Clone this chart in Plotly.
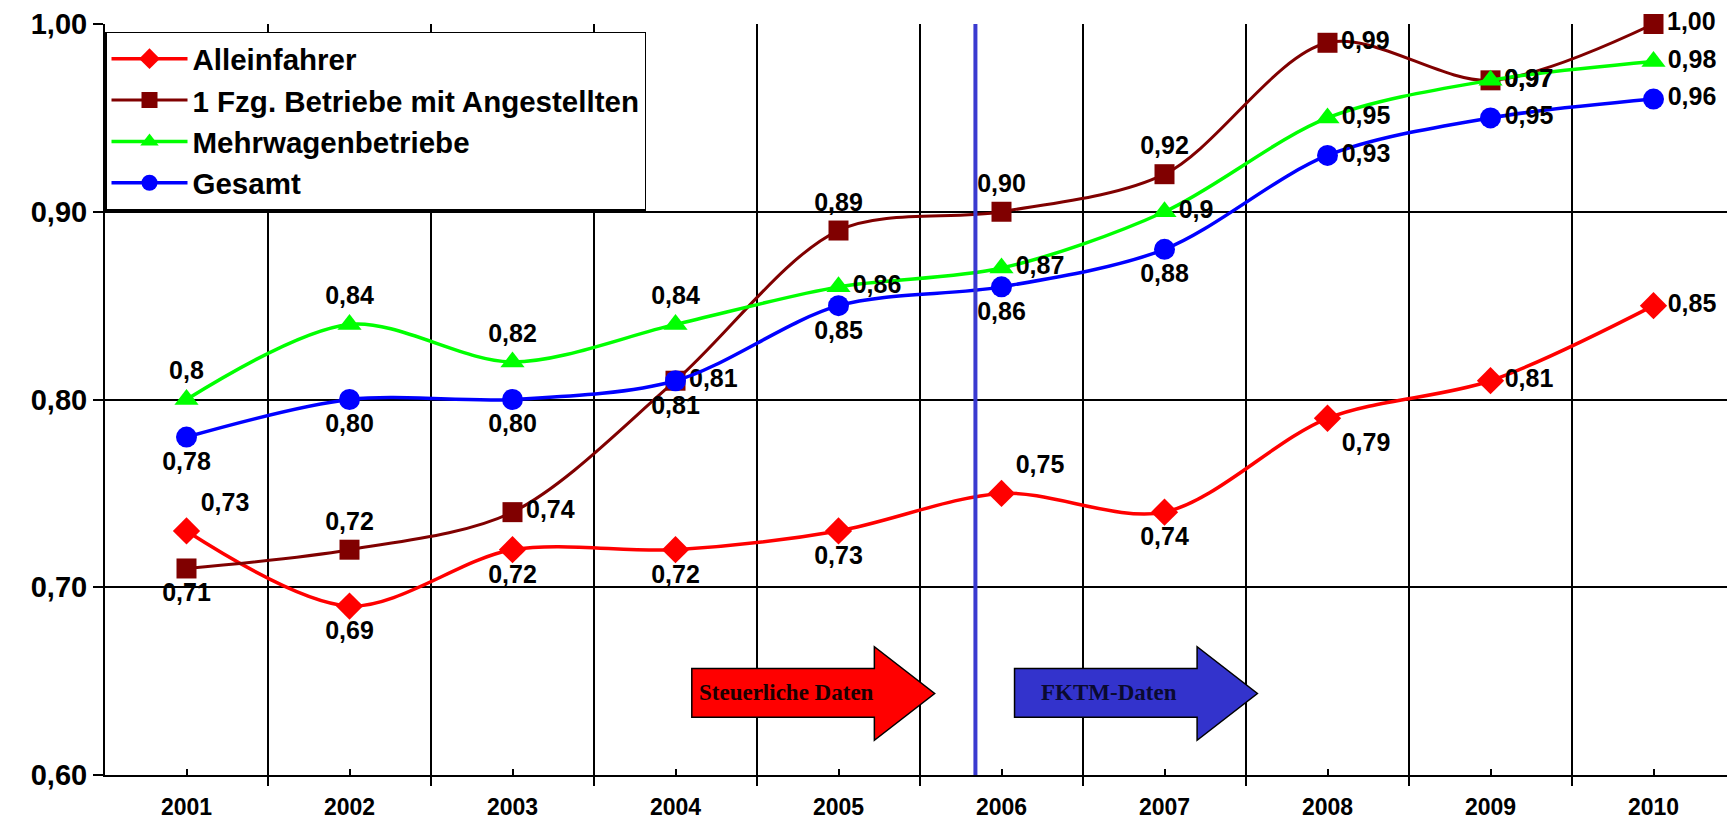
import plotly.graph_objects as go

years = [2001, 2002, 2003, 2004, 2005, 2006, 2007, 2008, 2009, 2010]

allein = [0.73, 0.69, 0.72, 0.72, 0.73, 0.75, 0.74, 0.79, 0.81, 0.85]
fzg1 = [0.71, 0.72, 0.74, 0.81, 0.89, 0.90, 0.92, 0.99, 0.97, 1.00]
mehr = [0.80, 0.84, 0.82, 0.84, 0.86, 0.87, 0.90, 0.95, 0.97, 0.98]
gesamt = [0.78, 0.80, 0.80, 0.81, 0.85, 0.86, 0.88, 0.93, 0.95, 0.96]

allein_lbl = ["0,73", "0,69", "0,72", "0,72", "0,73", "0,75", "0,74", "0,79", "0,81", "0,85"]
fzg1_lbl = ["0,71", "0,72", "0,74", "0,81", "0,89", "0,90", "0,92", "0,99", "0,97", "1,00"]
mehr_lbl = ["0,8", "0,84", "0,82", "0,84", "0,86", "0,87", "0,9", "0,95", "0,97", "0,98"]
gesamt_lbl = ["0,78", "0,80", "0,80", "0,81", "0,85", "0,86", "0,88", "0,93", "0,95", "0,96"]

y_ticks = [0.60, 0.70, 0.80, 0.90, 1.00]

FONT = "Liberation Sans"
LBL_FONT = dict(family=FONT, size=25, color="black", weight="bold")

allein_pos = ["top right", "bottom center", "bottom center", "bottom center", "bottom center",
              "top right", "bottom center", "bottom right", "middle right", "middle right"]
fzg1_pos = ["bottom center", "top center", "middle right", "middle right", "top center",
            "top center", "top center", "middle right", "middle right", "middle right"]
mehr_pos = ["top center", "top center", "top center", "top center", "middle right",
            "middle right", "middle right", "middle right", "middle right", "middle right"]
gesamt_pos = ["bottom center", "bottom center", "bottom center", "bottom center", "bottom center",
              "bottom center", "bottom center", "middle right", "middle right", "middle right"]

fig = go.Figure()

def add(name, vals, lbls, pos, color, symbol, size, width):
    fig.add_trace(go.Scatter(
        x=years, y=vals, name=name, mode="lines+markers+text",
        text=lbls, textposition=pos, textfont=LBL_FONT,
        line=dict(color=color, width=width, shape="spline", smoothing=0.9),
        marker=dict(color=color, symbol=symbol, size=size, line=dict(width=0)),
        cliponaxis=False,
    ))

add("Alleinfahrer", allein, allein_lbl, allein_pos, "#ff0000", "diamond", 21, 3.5)
add("1 Fzg. Betriebe mit Angestellten", fzg1, fzg1_lbl, fzg1_pos, "#800000", "square", 20, 3)
add("Mehrwagenbetriebe", mehr, mehr_lbl, mehr_pos, "#00ff00", "triangle-up", 21, 3.5)
add("Gesamt", gesamt, gesamt_lbl, gesamt_pos, "#0000ff", "circle", 21, 3.5)

# Arrows (data-source indicators)
def arrow(x0, xh, xt, yb0, yb1, yh0, yh1, ym, fill):
    path = (f"M {x0},{yb0} L {xh},{yb0} L {xh},{yh0} L {xt},{ym} "
            f"L {xh},{yh1} L {xh},{yb1} L {x0},{yb1} Z")
    fig.add_shape(type="path", path=path, xref="x", yref="y",
                  fillcolor=fill, line=dict(color="black", width=1.5), layer="above")

arrow(2004.10, 2005.22, 2005.59, 0.6307, 0.6567, 0.6185, 0.6683, 0.6434, "#ff0000")
arrow(2006.08, 2007.20, 2007.57, 0.6307, 0.6567, 0.6185, 0.6683, 0.6434, "#3333cc")

fig.add_annotation(x=2004.68, y=0.6437, xref="x", yref="y", text="Steuerliche Daten",
                   showarrow=False, font=dict(family="Liberation Serif", size=23,
                                              color="#1a0000", weight="bold"))
fig.add_annotation(x=2006.66, y=0.6437, xref="x", yref="y", text="FKTM-Daten",
                   showarrow=False, font=dict(family="Liberation Serif", size=23,
                                              color="#0a0a30", weight="bold"))

# Vertical separator line
fig.add_shape(type="line", x0=2005.84, x1=2005.84, y0=0, y1=1, xref="x", yref="paper",
              line=dict(color="#3a3ad0", width=4), layer="above")

fig.update_layout(
    width=1727, height=815,
    margin=dict(l=97, r=0, t=14, b=48),
    paper_bgcolor="white", plot_bgcolor="white",
    separators=",.",
    showlegend=True,
    legend=dict(
        x=0.0, y=0.99, xanchor="left", yanchor="top",
        bgcolor="white", bordercolor="black", borderwidth=1.5,
        font=dict(family=FONT, size=29.5, color="black", weight="bold"),
        itemwidth=76, tracegroupgap=0,
    ),
    xaxis=dict(
        range=[2000.5, 2010.5],
        tickmode="array", tickvals=years, ticktext=[str(y) for y in years],
        ticks="inside", ticklen=6, tickcolor="black", tickwidth=1.5,
        showgrid=False, zeroline=False,
        showline=True, linecolor="black", linewidth=2,
        tickfont=dict(family=FONT, size=23, color="black", weight="bold"),
        ticklabelstandoff=10,
        minor=dict(tickmode="linear", tick0=2000.5, dtick=1, showgrid=True,
                   gridcolor="black", gridwidth=1.5, ticks="outside", ticklen=9,
                   tickcolor="black", tickwidth=1.5),
    ),
    yaxis=dict(
        range=[0.60, 1.00],
        tickmode="array", tickvals=y_ticks, tickformat=".2f",
        ticks="outside", ticklen=10, tickcolor="black", tickwidth=2,
        showgrid=True, gridcolor="black", gridwidth=1.5, zeroline=False,
        showline=True, linecolor="black", linewidth=2,
        ticklabeloverflow="allow",
        tickfont=dict(family=FONT, size=29, color="black", weight="bold"),
    ),
)

fig.write_html("out.html")
